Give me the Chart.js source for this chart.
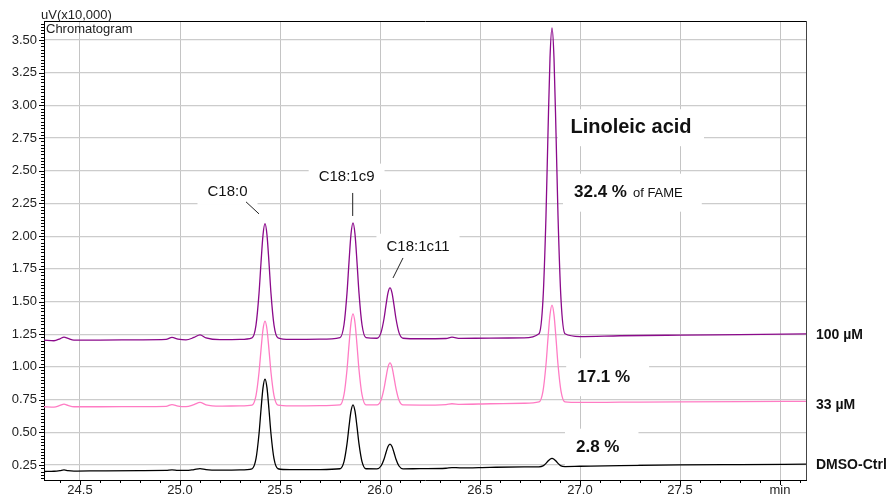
<!DOCTYPE html>
<html>
<head>
<meta charset="utf-8">
<script src="https://cdn.jsdelivr.net/npm/chart.js@4.4.1/dist/chart.umd.min.js"></script>
<style>
  html, body { margin: 0; padding: 0; background: #fff; }
  #wrap { width: 888px; height: 498px; }
</style>
</head>
<body>
<div id="wrap"><canvas id="chrom"></canvas></div>
<script>
// retention time (min), shared by all three traces
const retentionTimes = [
  24.32, 24.37, 24.40, 24.42, 24.44, 24.47, 24.60, 24.80, 24.93, 24.96, 24.99, 25.03, 25.07, 25.10, 25.13, 25.20, 25.30,
  25.36, 25.38, 25.395, 25.405, 25.415, 25.425, 25.435, 25.445, 25.455, 25.47, 25.49,
  25.55, 25.70,
  25.80, 25.82, 25.835, 25.845, 25.855, 25.865, 25.875, 25.885, 25.895, 25.91, 25.93,
  25.985, 26.005, 26.02, 26.03, 26.04, 26.05, 26.06, 26.07, 26.08, 26.095, 26.115,
  26.20, 26.33, 26.36, 26.40, 26.55, 26.72,
  26.795, 26.815, 26.83, 26.84, 26.85, 26.86, 26.87, 26.88, 26.89, 26.905, 26.925,
  27.00, 27.20, 27.50, 27.80, 28.13
];

// signal in uV (x10,000)
const trace100 = [
  1.205, 1.200, 1.215, 1.228, 1.218, 1.205, 1.205, 1.207, 1.210, 1.225, 1.212, 1.206, 1.225, 1.245, 1.222, 1.208, 1.210,
  1.222, 1.320, 1.560, 1.796, 2.008, 2.095, 2.008, 1.796, 1.560, 1.320, 1.222,
  1.210, 1.212,
  1.224, 1.322, 1.564, 1.801, 2.015, 2.102, 2.015, 1.801, 1.564, 1.322, 1.224,
  1.219, 1.262, 1.368, 1.472, 1.566, 1.604, 1.566, 1.472, 1.368, 1.262, 1.219,
  1.215, 1.217, 1.227, 1.218, 1.220, 1.222,
  1.253, 1.516, 2.158, 2.791, 3.360, 3.592, 3.360, 2.791, 2.158, 1.516, 1.253,
  1.232, 1.238, 1.243, 1.247, 1.252
];
const trace33 = [
  0.695, 0.692, 0.705, 0.715, 0.705, 0.695, 0.695, 0.696, 0.698, 0.712, 0.700, 0.696, 0.712, 0.728, 0.710, 0.700, 0.702,
  0.708, 0.781, 0.957, 1.130, 1.286, 1.350, 1.286, 1.130, 0.957, 0.781, 0.708,
  0.702, 0.703,
  0.709, 0.787, 0.978, 1.167, 1.336, 1.405, 1.336, 1.167, 0.978, 0.787, 0.709,
  0.709, 0.745, 0.833, 0.920, 0.998, 1.030, 0.998, 0.920, 0.833, 0.745, 0.709,
  0.708, 0.712, 0.718, 0.714, 0.718, 0.722,
  0.732, 0.815, 1.018, 1.219, 1.398, 1.472, 1.398, 1.219, 1.018, 0.815, 0.732,
  0.728, 0.730, 0.733, 0.735, 0.736
];
const traceCtrl = [
  0.200, 0.202, 0.207, 0.212, 0.206, 0.203, 0.205, 0.207, 0.208, 0.213, 0.208, 0.208, 0.215, 0.222, 0.214, 0.210, 0.212,
  0.221, 0.298, 0.487, 0.672, 0.839, 0.907, 0.839, 0.672, 0.487, 0.298, 0.221,
  0.214, 0.215,
  0.221, 0.276, 0.411, 0.543, 0.661, 0.710, 0.661, 0.543, 0.411, 0.276, 0.221,
  0.220, 0.242, 0.294, 0.345, 0.391, 0.410, 0.391, 0.345, 0.294, 0.242, 0.220,
  0.222, 0.225, 0.230, 0.228, 0.232, 0.235,
  0.236, 0.243, 0.262, 0.280, 0.294, 0.300, 0.294, 0.280, 0.262, 0.243, 0.238,
  0.240, 0.245, 0.250, 0.253, 0.256
];

const seriesNames = ['100 µM', '33 µM', 'DMSO-Ctrl'];
const peakNames = ['C18:0', 'C18:1c9', 'C18:1c11'];
const fameShares = ['32.4 %', '17.1 %', '2.8 %'];

const FONT = '"Liberation Sans", Arial, sans-serif';

// where the notes sit, in axis units (min, uV x10,000)
const peakLabelSpots = [
  { x: 25.2375, y: 2.338, line: [25.33, 2.262, 25.395, 2.170] },
  { x: 25.833, y: 2.455, line: [25.8635, 2.330, 25.8635, 2.154] },
  { x: 26.19, y: 1.919, line: [26.115, 1.833, 26.065, 1.680] }
];
const titleSpot = { x: 27.255, y: 2.829 };
const shareSpots = [
  { x: 26.97, y: 2.332 },
  { x: 26.986, y: 0.921 },
  { x: 26.98, y: 0.382 }
];
const nameNudge = [0, 3, 0];

function whiteBox(ctx, cx, cy, w, h) {
  ctx.fillStyle = '#fff';
  ctx.fillRect(cx - w / 2, cy - h / 2, w, h);
}

const overlayPlugin = {
  id: 'overlay',
  beforeDatasetsDraw(chart) {
    const { ctx, scales: { x, y } } = chart;
    ctx.save();
    ctx.textBaseline = 'middle';

    // peak names with leader lines
    ctx.font = '15px ' + FONT;
    peakNames.forEach((name, i) => {
      const s = peakLabelSpots[i];
      const px = x.getPixelForValue(s.x), py = y.getPixelForValue(s.y);
      const w = ctx.measureText(name).width;
      whiteBox(ctx, px, py, w + 20, 26);
      ctx.fillStyle = '#111';
      ctx.textAlign = 'center';
      ctx.fillText(name, px, py);
      ctx.strokeStyle = '#222';
      ctx.lineWidth = 1;
      ctx.beginPath();
      ctx.moveTo(x.getPixelForValue(s.line[0]), y.getPixelForValue(s.line[1]));
      ctx.lineTo(x.getPixelForValue(s.line[2]), y.getPixelForValue(s.line[3]));
      ctx.stroke();
    });

    // Linoleic acid title
    ctx.font = 'bold 20px ' + FONT;
    const px = x.getPixelForValue(titleSpot.x), py = y.getPixelForValue(titleSpot.y);
    whiteBox(ctx, px, py, 146, 37);
    ctx.fillStyle = '#111';
    ctx.textAlign = 'center';
    ctx.fillText('Linoleic acid', px, py);

    // share of FAME per trace
    fameShares.forEach((txt, i) => {
      const s = shareSpots[i];
      const lx = x.getPixelForValue(s.x), ly = y.getPixelForValue(s.y);
      ctx.font = 'bold 17px ' + FONT;
      const w = ctx.measureText(txt).width;
      let total = w;
      if (i === 0) {
        ctx.font = '13px ' + FONT;
        total = w + 6 + ctx.measureText('of FAME').width;
      }
      ctx.fillStyle = '#fff';
      ctx.fillRect(lx - 11, ly - 19, total + 30, 38);
      ctx.fillStyle = '#111';
      ctx.textAlign = 'left';
      ctx.font = 'bold 17px ' + FONT;
      ctx.fillText(txt, lx, ly);
      if (i === 0) {
        ctx.font = '13px ' + FONT;
        ctx.fillText('of FAME', lx + w + 6, ly + 1);
      }
    });
    ctx.restore();
  },
  afterDraw(chart) {
    const { ctx, chartArea: a, scales: { x, y } } = chart;
    ctx.save();

    // frame
    ctx.strokeStyle = '#000';
    ctx.lineWidth = 1;
    ctx.beginPath();
    ctx.moveTo(a.left + 0.5, a.top + 0.5);
    ctx.lineTo(a.right + 0.5, a.top + 0.5);
    ctx.stroke();
    ctx.strokeStyle = '#444';
    ctx.beginPath();
    ctx.moveTo(a.right + 0.5, a.top);
    ctx.lineTo(a.right + 0.5, a.bottom);
    ctx.stroke();

    // minor and major tick marks, outside the axes
    ctx.strokeStyle = '#000';
    ctx.beginPath();
    for (let k = 6; k <= 145; k++) {
      const v = k * 0.025;
      if (v < y.min || v > y.max) continue;
      const py = Math.round(y.getPixelForValue(v)) + 0.5;
      const len = k % 10 === 0 ? 5 : 3;
      ctx.moveTo(a.left - len, py);
      ctx.lineTo(a.left, py);
    }
    for (let k = 244; k <= 281; k++) {
      const v = k / 10;
      if (v < x.min || v > x.max) continue;
      const px = Math.round(x.getPixelForValue(v)) + 0.5;
      const len = k % 5 === 0 ? 5 : 3;
      ctx.moveTo(px, a.bottom);
      ctx.lineTo(px, a.bottom + len);
    }
    ctx.stroke();

    // axis unit and chart name
    ctx.fillStyle = '#222';
    ctx.font = '13px ' + FONT;
    ctx.textAlign = 'left';
    ctx.textBaseline = 'middle';
    ctx.fillText('uV(x10,000)', a.left - 3, a.top - 6);
    ctx.fillText('Chromatogram', a.left + 2, a.top + 8);

    // trace names at the right
    ctx.fillStyle = '#111';
    ctx.font = 'bold 14px ' + FONT;
    chart.data.datasets.forEach((ds, i) => {
      const last = ds.data[ds.data.length - 1];
      ctx.fillText(seriesNames[i], a.right + 10, y.getPixelForValue(last.y) + 1 + nameNudge[i]);
    });
    ctx.restore();
  }
};

const toPoints = vals => retentionTimes.map((t, i) => ({ x: t, y: vals[i] }));

new Chart(document.getElementById('chrom'), {
  type: 'line',
  data: {
    datasets: [
      { label: seriesNames[0], data: toPoints(trace100), borderColor: '#8b0a8b', borderWidth: 1.3 },
      { label: seriesNames[1], data: toPoints(trace33), borderColor: '#ff7cc4', borderWidth: 1.3 },
      { label: seriesNames[2], data: toPoints(traceCtrl), borderColor: '#000000', borderWidth: 1.3 }
    ]
  },
  options: {
    responsive: true,
    maintainAspectRatio: false,
    animation: false,
    layout: { padding: { top: 21, right: 82, left: 0, bottom: 0 } },
    elements: {
      point: { radius: 0 },
      line: { cubicInterpolationMode: 'monotone' }
    },
    plugins: { legend: { display: false }, tooltip: { enabled: false } },
    scales: {
      x: {
        type: 'linear',
        min: 24.32,
        max: 28.13,
        afterFit: s => { s.height = 18; },
        border: { color: '#000', width: 1 },
        grid: { color: '#c4c4c4', drawTicks: false },
        ticks: {
          stepSize: 0.5,
          includeBounds: false,
          padding: 3,
          color: '#222',
          font: { family: FONT, size: 13 },
          maxRotation: 0,
          callback: v => (Math.abs(v - 28) < 1e-6 ? 'min' : v.toFixed(1))
        }
      },
      y: {
        min: 0.135,
        max: 3.645,
        afterFit: s => { s.width = 44; },
        border: { color: '#000', width: 1 },
        grid: { color: '#cccccc', lineWidth: 1.2, drawTicks: false },
        ticks: {
          stepSize: 0.25,
          includeBounds: false,
          padding: 7,
          color: '#222',
          font: { family: FONT, size: 13 },
          callback: v => v.toFixed(2)
        }
      }
    }
  },
  plugins: [overlayPlugin]
});
</script>
</body>
</html>
